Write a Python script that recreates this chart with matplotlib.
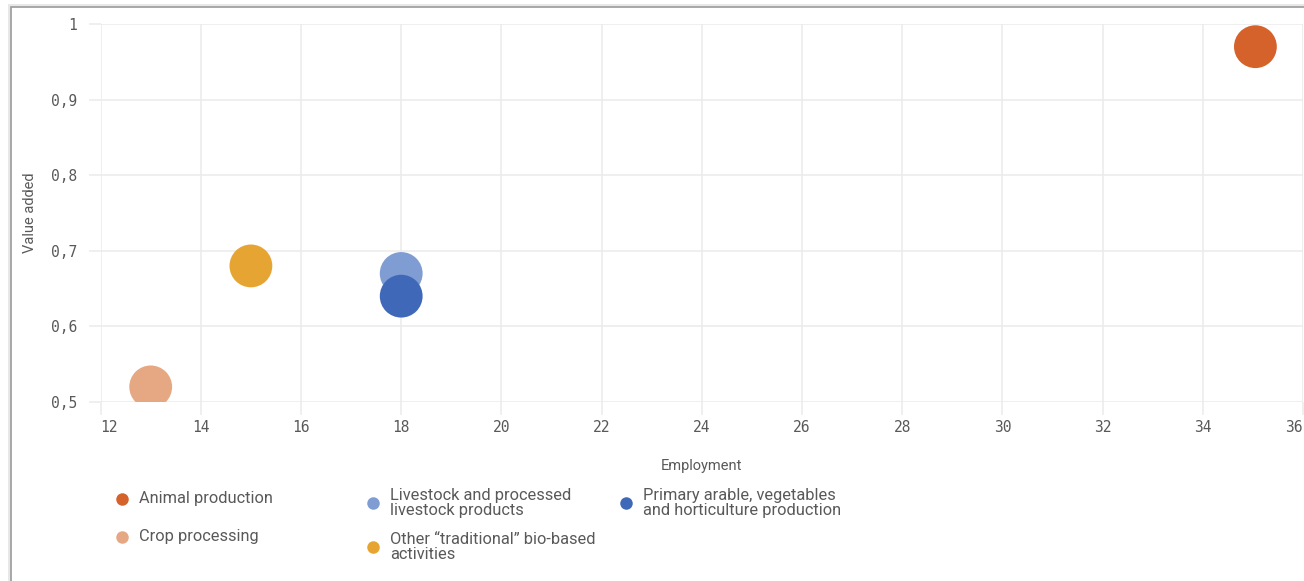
import matplotlib
matplotlib.use("Agg")
import matplotlib.pyplot as plt
from matplotlib.lines import Line2D
from matplotlib.patches import Rectangle
from matplotlib.ticker import FuncFormatter

# 各类别：就业 (x) 与增加值 (y)
categories = [
    "Animal production",
    "Crop processing",
    "Livestock and processed\nlivestock products",
    "Other \u201ctraditional\u201d bio-based\nactivities",
    "Primary arable, vegetables\nand horticulture production",
]
employment = [35.05, 13.0, 18.0, 15.0, 18.0]
value_added = [0.97, 0.52, 0.67, 0.68, 0.64]
colors = ["#D6622B", "#E6A882", "#7F9DD2", "#E6A532", "#3F69B8"]

x_ticks = list(range(12, 37, 2))
y_ticks = [0.5, 0.6, 0.7, 0.8, 0.9, 1.0]

TEXT = "#595959"
GRID = "#ebebeb"
W, H = 1304, 581

fig = plt.figure(figsize=(W / 100, H / 100), dpi=100)
fig.patch.set_facecolor("white")

# 外框：浅灰底边 + 深灰细线（只露出上边和左边）
fig.add_artist(Rectangle((8 / W, -0.1), 2, 1.1 - 4 / H, transform=fig.transFigure,
                         facecolor="#e8e8e8", edgecolor="none", zorder=0))
fig.add_artist(Rectangle((11 / W, -0.1), 2, 1.1 - 7 / H, transform=fig.transFigure,
                         facecolor="white", edgecolor="#9a9a9a", lw=1.2, zorder=0))

left, right, top, bottom = 100.6, 1303, 24, 402
ax = fig.add_axes([left / W, 1 - bottom / H, (right - left) / W, (bottom - top) / H])
ax.set_facecolor("white")
ax.patch.set_alpha(0)

for xi, yi, c in zip(employment, value_added, colors):
    ax.scatter(xi, yi, s=950, color=c, edgecolors="none", zorder=3)

ax.set_xlim(12, 36)
ax.set_ylim(0.5, 1.0)
ax.set_xticks(x_ticks)
ax.set_yticks(y_ticks)
ax.yaxis.set_major_formatter(FuncFormatter(
    lambda v, p: "1" if abs(v - 1) < 1e-9 else f"{v:.1f}".replace(".", ",")))

ax.grid(True, color=GRID, lw=1.1, zorder=0)
for s in ax.spines.values():
    s.set_visible(False)
ax.tick_params(axis="both", length=9, width=1.1, color=GRID, labelcolor=TEXT,
               labelsize=10.5)
ax.tick_params(axis="x", pad=4)
ax.tick_params(axis="y", pad=8)
for lab in ax.get_xticklabels() + ax.get_yticklabels():
    lab.set_family("DejaVu Sans Mono")
xlabs = ax.get_xticklabels()
xlabs[0].set_horizontalalignment("left")
xlabs[-1].set_horizontalalignment("right")

ax.set_xlabel("Employment", fontsize=10.5, color=TEXT, family="Roboto", labelpad=17)
ax.set_ylabel("Value added", fontsize=10.5, color=TEXT, family="Roboto", labelpad=10)

# 图例：三列手动排布
legend_pos = [(122, 499), (122, 537), (373, 503), (373, 547), (626, 503)]
for (px, py), name, c in zip(legend_pos, categories, colors):
    fig.add_artist(Line2D([px / W], [1 - py / H], marker="o", ms=9, color=c,
                          mec="none", transform=fig.transFigure))
    fig.text((px + 17) / W, 1 - py / H, name, fontsize=11.8, color=TEXT,
             family="Roboto", va="center", ha="left", linespacing=1.02)

fig.savefig("out.png", dpi=100)
